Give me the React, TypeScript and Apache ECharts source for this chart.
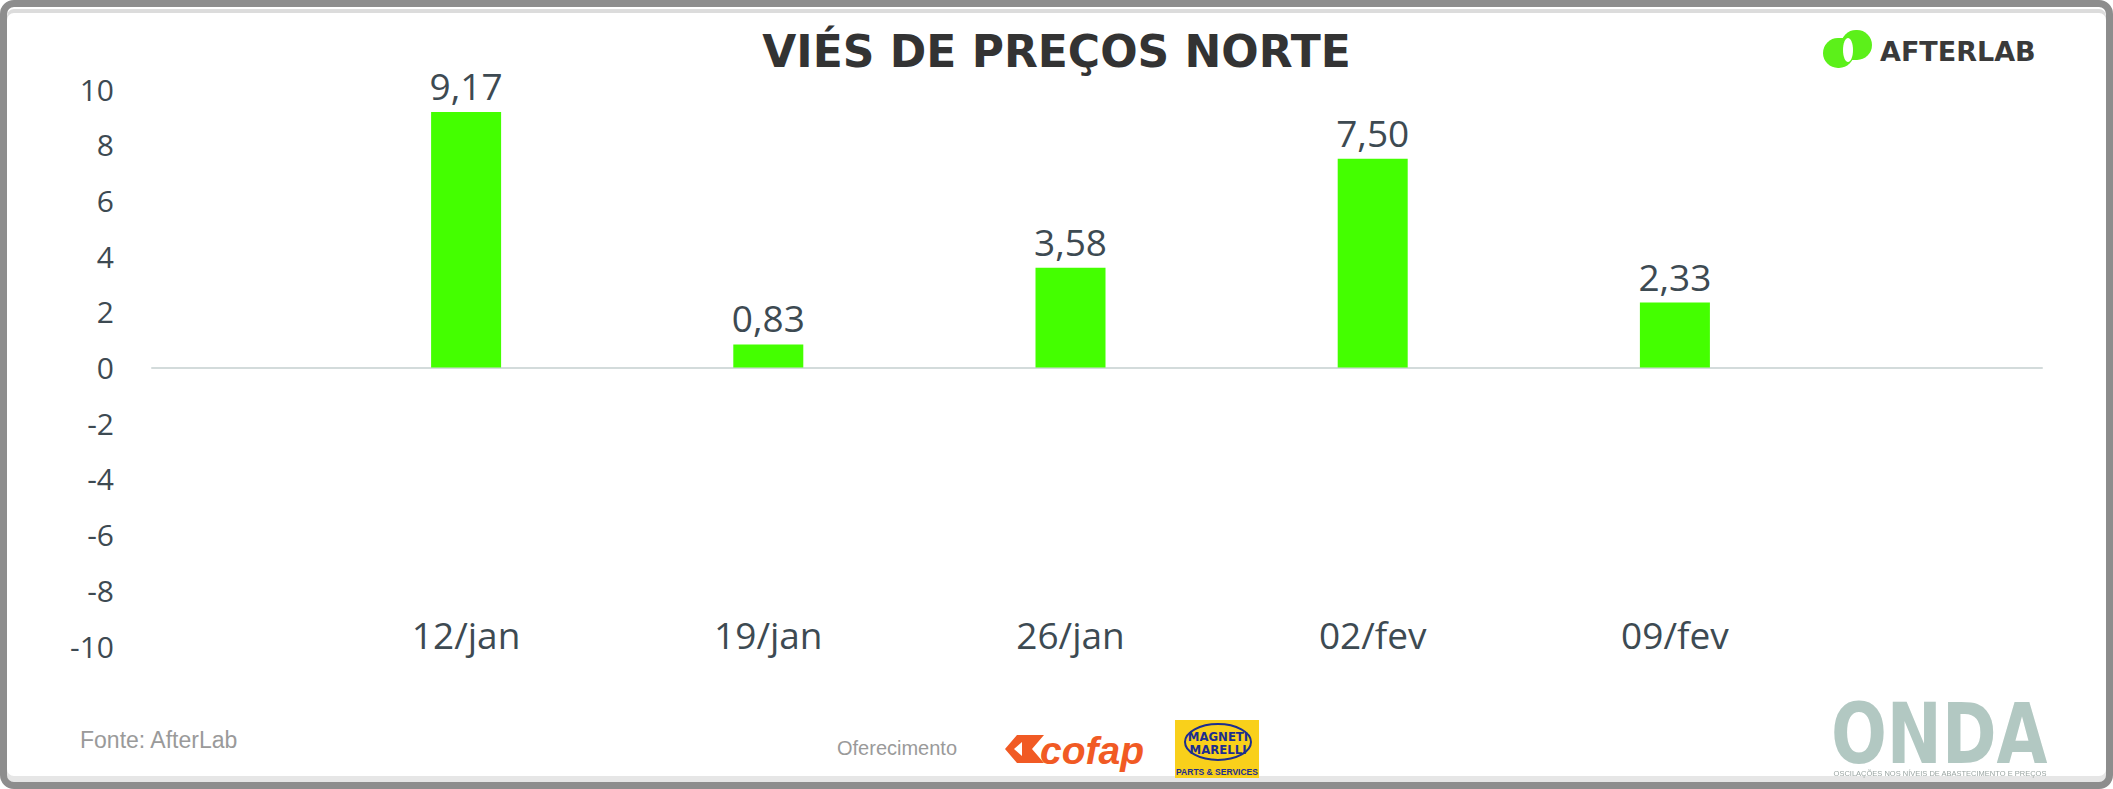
import React, { useEffect, useRef } from "react";
import * as echarts from "echarts";

// ---- data ----
const categories = ["12/jan", "19/jan", "26/jan", "02/fev", "09/fev"];
const values = [9.17, 0.83, 3.58, 7.5, 2.33];
const yMin = -10;
const yMax = 10;
const yStep = 2;
const chartTitle = "VIÉS DE PREÇOS NORTE";
const sourceText = "Fonte: AfterLab";
const sponsorText = "Oferecimento";
const brandText = "AFTERLAB";
const ondaText = "ONDA";
const ondaSubtitle = "OSCILAÇÕES NOS NÍVEIS DE ABASTECIMENTO E PREÇOS";

const TEXT_COLOR = "#3d4a52";
const BAR_COLOR = "#44ff00";

const fmt = (v: number) => v.toFixed(2).replace(".", ",");

export default function App() {
  const ref = useRef<HTMLDivElement>(null);

  useEffect(() => {
    document.body.style.margin = "0";
    if (!ref.current) return;
    const chart = echarts.init(ref.current, undefined, { renderer: "svg" });
    const option: any = {
      animation: false,
      title: {
        text: chartTitle,
        left: "center",
        top: 24,
        textStyle: {
          fontFamily: "DejaVu Sans",
          fontWeight: "bold",
          fontSize: 44,
          color: "#333333",
        },
      },
      grid: [
        { left: 152, right: 71, top: 89, height: 557 },
        { left: 315, width: 1511, top: 89, height: 557 },
      ],
      xAxis: [
        {
          gridIndex: 0,
          type: "value",
          min: 0,
          max: 1,
          axisLine: { show: true, onZero: true, lineStyle: { color: "#d3dbdb", width: 2 } },
          axisTick: { show: false },
          axisLabel: { show: false },
          splitLine: { show: false },
        },
        {
          gridIndex: 1,
          type: "category",
          data: categories,
          position: "bottom",
          offset: -30,
          axisLine: { show: false, onZero: false },
          axisTick: { show: false },
          splitLine: { show: false },
          axisLabel: {
            margin: 0,
            fontFamily: "'Open Sans', sans-serif",
            fontSize: 37,
            color: TEXT_COLOR,
          },
        },
      ],
      yAxis: [
        {
          gridIndex: 0,
          type: "value",
          min: yMin,
          max: yMax,
          interval: yStep,
          axisLine: { show: false },
          axisTick: { show: false },
          splitLine: { show: false },
          axisLabel: {
            margin: 38,
            fontFamily: "'Open Sans', sans-serif",
            fontSize: 30,
            color: TEXT_COLOR,
          },
        },
        {
          gridIndex: 1,
          type: "value",
          min: yMin,
          max: yMax,
          interval: yStep,
          show: false,
          splitLine: { show: false },
        },
      ],
      series: [
        {
          type: "bar",
          xAxisIndex: 1,
          yAxisIndex: 1,
          data: values,
          barWidth: 70,
          itemStyle: { color: BAR_COLOR },
          label: {
            show: true,
            position: "top",
            distance: 8,
            fontFamily: "'Open Sans', sans-serif",
            fontSize: 37,
            color: TEXT_COLOR,
            formatter: (p: any) => fmt(p.value),
          },
        },
      ],
      graphic: [
        // AfterLab icon
        {
          type: "rect",
          shape: { x: 1823, y: 38, width: 31, height: 30, r: [15, 3, 15, 15] },
          style: { fill: "#5cf01a" },
        },
        {
          type: "rect",
          shape: { x: 1841, y: 30, width: 31, height: 30, r: [15, 15, 15, 3] },
          style: { fill: "#5cf01a" },
        },
        {
          type: "ellipse",
          shape: { cx: 1848, cy: 50, rx: 5, ry: 12 },
          style: { fill: "#ffffff" },
        },
        {
          type: "text",
          x: 1880,
          y: 51,
          style: {
            text: brandText,
            fontFamily: "DejaVu Sans",
            fontWeight: "bold",
            fontSize: 27,
            fill: "#3a3a3a",
            verticalAlign: "middle",
          },
        },
        // footer source
        {
          type: "text",
          x: 80,
          y: 740,
          style: {
            text: sourceText,
            fontFamily: "Liberation Sans",
            fontSize: 23,
            fill: "#9a9a9a",
            verticalAlign: "middle",
          },
        },
        {
          type: "text",
          x: 837,
          y: 748,
          style: {
            text: sponsorText,
            fontFamily: "Liberation Sans",
            fontSize: 20,
            fill: "#9a9a9a",
            verticalAlign: "middle",
          },
        },
        // cofap logo
        {
          type: "polygon",
          shape: {
            points: [
              [1005, 749],
              [1017, 735],
              [1044, 735],
              [1032, 749],
              [1044, 763],
              [1017, 763],
            ],
          },
          style: { fill: "#f15a24" },
        },
        {
          type: "polygon",
          shape: { points: [[1014, 749], [1022, 742], [1022, 756]] },
          style: { fill: "#ffffff" },
        },
        {
          type: "text",
          x: 1040,
          y: 750,
          style: {
            text: "cofap",
            fontFamily: "Liberation Sans",
            fontWeight: "bold",
            fontStyle: "italic",
            fontSize: 39,
            fill: "#f15a24",
            verticalAlign: "middle",
          },
        },
        // Magneti Marelli logo
        {
          type: "rect",
          shape: { x: 1175, y: 720, width: 84, height: 58 },
          style: { fill: "#f9d01b" },
        },
        {
          type: "ellipse",
          shape: { cx: 1218, cy: 742, rx: 33, ry: 18 },
          style: { fill: "none", stroke: "#1c2d8f", lineWidth: 2 },
        },
        {
          type: "text",
          x: 1218,
          y: 736,
          style: {
            text: "MAGNETI",
            fontFamily: "'DejaVu Sans Condensed', 'DejaVu Sans'",
            fontWeight: "bold",
            fontSize: 13,
            fill: "#1c2d8f",
            align: "center",
            verticalAlign: "middle",
          },
        },
        {
          type: "text",
          x: 1218,
          y: 749,
          style: {
            text: "MARELLI",
            fontFamily: "'DejaVu Sans Condensed', 'DejaVu Sans'",
            fontWeight: "bold",
            fontSize: 13,
            fill: "#1c2d8f",
            align: "center",
            verticalAlign: "middle",
          },
        },
        {
          type: "text",
          x: 1217,
          y: 772,
          style: {
            text: "PARTS & SERVICES",
            fontFamily: "Liberation Sans",
            fontWeight: "bold",
            fontSize: 8.5,
            fill: "#1c2d8f",
            align: "center",
            verticalAlign: "middle",
          },
        },
        // ONDA logo
        {
          type: "text",
          x: 1831,
          y: 734,
          scaleX: 0.87,
          style: {
            text: ondaText,
            fontFamily: "'Liberation Sans Narrow', 'DejaVu Sans Condensed', sans-serif",
            fontWeight: "bold",
            fontSize: 84,
            lineHeight: 60,
            fill: "#b2c8c2",
            verticalAlign: "middle",
          },
        },
        {
          type: "text",
          x: 1940,
          y: 773,
          style: {
            text: ondaSubtitle,
            fontFamily: "Liberation Sans",
            fontSize: 7.5,
            fill: "#9aa5a2",
            align: "center",
            verticalAlign: "middle",
          },
        },
      ],
    };
    chart.setOption(option);
    return () => chart.dispose();
  }, []);

  return (
    <>
      <div
        style={{
          position: "fixed",
          left: 0,
          top: 0,
          width: 2113,
          height: 789,
          boxSizing: "border-box",
          border: "7px solid #8d8d8d",
          borderRadius: 14,
          background: "#ffffff",
          boxShadow: "inset 0 2px 0 #ffffff, inset 0 6px 0 #dcdcdc, inset 0 -6px 0 #e6e6e6",
        }}
      />
      <div
        ref={ref}
        style={{ position: "fixed", left: 0, top: 0, width: 2113, height: 789, zIndex: 1 }}
      />
    </>
  );
}
